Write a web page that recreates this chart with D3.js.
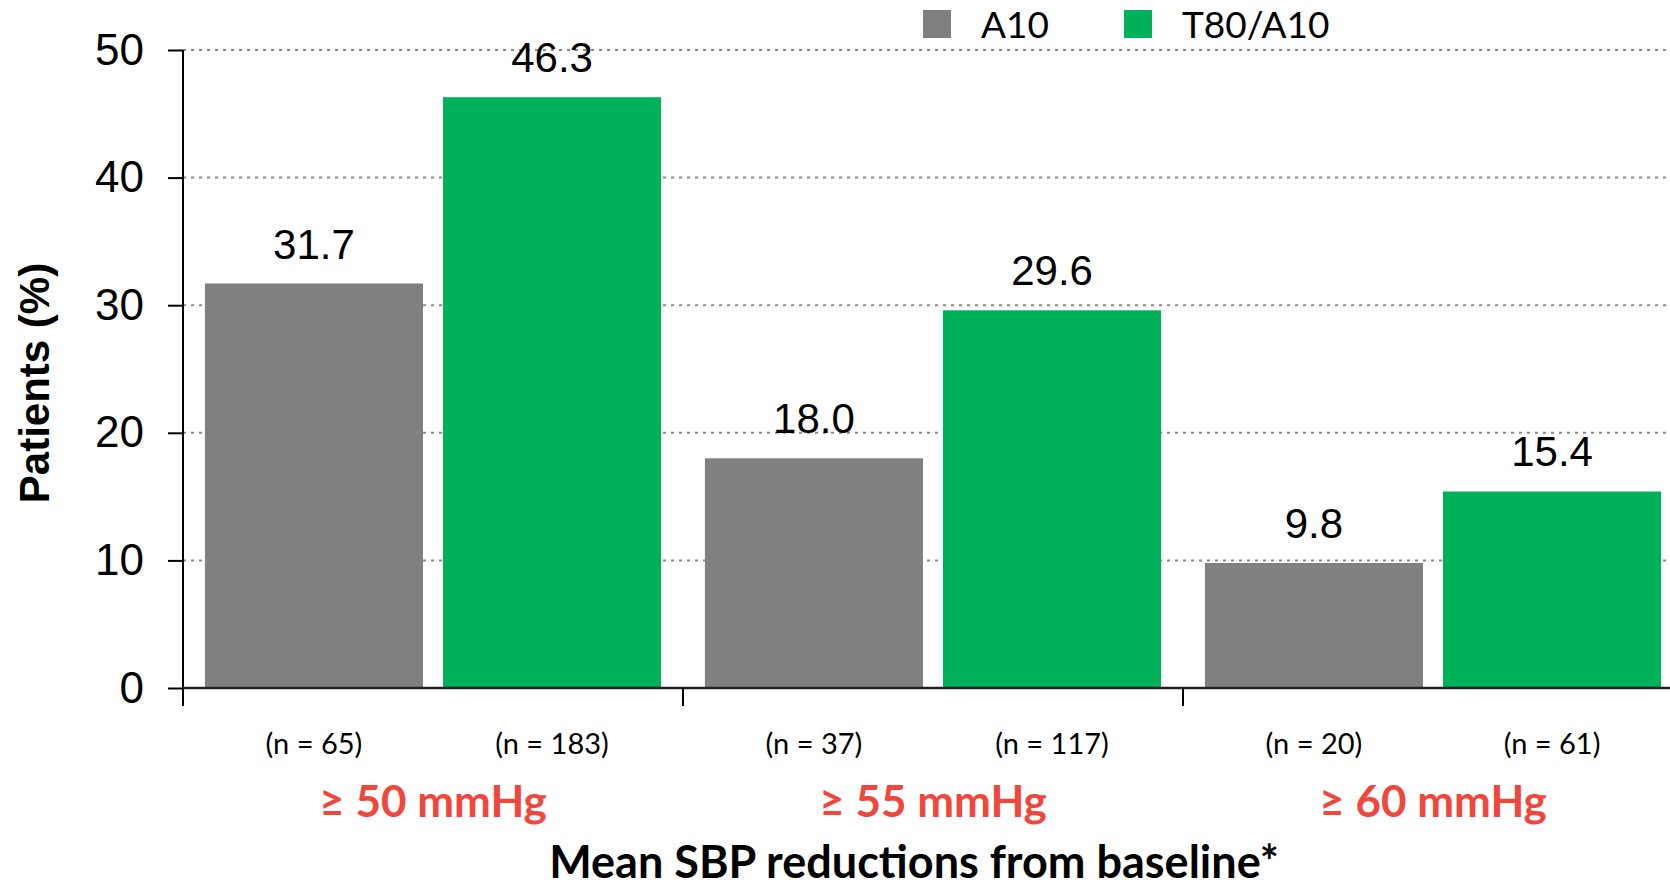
<!DOCTYPE html>
<html>
<head>
<meta charset="utf-8">
<script src="https://cdn.jsdelivr.net/npm/d3@7"></script>
<style>
  html, body { margin: 0; padding: 0; background: #fff; }
  svg { display: block; }
</style>
</head>
<body>
<svg id="chart" width="1670" height="889"></svg>
<script>
// Share of patients reaching each mean SBP reduction threshold
const categories = ["≥ 50 mmHg", "≥ 55 mmHg", "≥ 60 mmHg"];
const series = ["A10", "T80/A10"];
const valuesA10 = [31.7, 18.0, 9.8];
const valuesT80A10 = [46.3, 29.6, 15.4];
const nA10 = [65, 37, 20];
const nT80A10 = [183, 117, 61];
const yTicks = [0, 10, 20, 30, 40, 50];

const colors = { "A10": "#808080", "T80/A10": "#00B159" };

const rows = categories.map((c, i) => ({
  category: c,
  bars: [
    { series: "A10", value: valuesA10[i], n: nA10[i] },
    { series: "T80/A10", value: valuesT80A10[i], n: nT80A10[i] }
  ]
}));

const svg = d3.select("#chart");
const plotLeft = 183, plotTop = 50, plotBottom = 688;
const groupWidth = 500;

const x0 = d3.scaleBand()
  .domain(categories)
  .range([plotLeft, plotLeft + groupWidth * categories.length])
  .paddingInner(0).paddingOuter(0);

const x1 = d3.scaleBand()
  .domain(series)
  .range([0, groupWidth])
  .paddingInner(0.084)
  .paddingOuter(0.092);

const y = d3.scaleLinear().domain([0, 50]).range([plotBottom, plotTop]);

// dotted gridlines
svg.append("g")
  .selectAll("line")
  .data(yTicks.filter(d => d > 0))
  .join("line")
  .attr("x1", plotLeft).attr("x2", 1670)
  .attr("y1", d => y(d)).attr("y2", d => y(d))
  .attr("stroke", "#8a8a8a")
  .attr("stroke-width", 2)
  .attr("stroke-dasharray", "3,5");

// bars
const groups = svg.append("g")
  .selectAll("g")
  .data(rows)
  .join("g")
  .attr("transform", d => `translate(${x0(d.category)},0)`);

groups.selectAll("rect")
  .data(d => d.bars)
  .join("rect")
  .attr("x", d => x1(d.series))
  .attr("width", x1.bandwidth())
  .attr("y", d => y(d.value))
  .attr("height", d => y(0) - y(d.value))
  .attr("fill", d => colors[d.series]);

// value labels above bars
groups.selectAll("text.val")
  .data(d => d.bars)
  .join("text")
  .attr("class", "val")
  .attr("x", d => x1(d.series) + x1.bandwidth() / 2)
  .attr("y", d => y(d.value) - 25)
  .attr("text-anchor", "middle")
  .attr("font-family", "Liberation Sans, Arial, sans-serif")
  .attr("font-size", 42)
  .attr("fill", "#000")
  .text(d => d3.format(".1f")(d.value));

// sample sizes under bars
groups.selectAll("text.n")
  .data(d => d.bars)
  .join("text")
  .attr("class", "n")
  .attr("x", d => x1(d.series) + x1.bandwidth() / 2)
  .attr("y", 754)
  .attr("text-anchor", "middle")
  .attr("font-family", "Lato, sans-serif")
  .attr("font-size", 29)
  .attr("fill", "#000")
  .text(d => `(n = ${d.n})`);

// threshold labels
svg.append("g")
  .selectAll("text")
  .data(categories)
  .join("text")
  .attr("x", d => x0(d) + groupWidth / 2)
  .attr("y", 817)
  .attr("text-anchor", "middle")
  .attr("font-family", "Lato, sans-serif")
  .attr("font-weight", "bold")
  .attr("font-size", 44)
  .attr("fill", "#F0473D")
  .text(d => d);

// y axis
const yAxis = svg.append("g")
  .attr("transform", `translate(${plotLeft},0)`)
  .call(d3.axisLeft(y).tickValues(yTicks).tickSize(15).tickPadding(24).tickFormat(d3.format("d")));
yAxis.select(".domain").attr("stroke", "#000").attr("stroke-width", 2).attr("d", `M0,${plotTop}V${plotBottom + 18}`);
yAxis.selectAll(".tick line").attr("stroke", "#000").attr("stroke-width", 2);
yAxis.selectAll(".tick text")
  .attr("font-family", "Liberation Sans, Arial, sans-serif")
  .attr("font-size", 44)
  .attr("fill", "#000");

// x baseline with group separators
const xAxis = svg.append("g")
  .attr("transform", `translate(0,${plotBottom})`)
  .call(d3.axisBottom(x0).tickValues([]).tickSizeOuter(0));
xAxis.select(".domain").attr("stroke", "#222").attr("stroke-width", 2.5)
  .attr("d", `M${plotLeft},0H1670`);
xAxis.selectAll(".sep")
  .data(categories.slice(1))
  .join("line")
  .attr("class", "sep")
  .attr("x1", d => x0(d)).attr("x2", d => x0(d))
  .attr("y1", 0).attr("y2", 18)
  .attr("stroke", "#000").attr("stroke-width", 2);

// axis titles
svg.append("text")
  .attr("transform", "translate(49,383) rotate(-90)")
  .attr("text-anchor", "middle")
  .attr("font-family", "Liberation Sans, Arial, sans-serif")
  .attr("font-weight", "bold")
  .attr("font-size", 42)
  .attr("fill", "#000")
  .text("Patients (%)");

svg.append("text")
  .attr("x", 914)
  .attr("y", 878)
  .attr("text-anchor", "middle")
  .attr("font-family", "Lato, sans-serif")
  .attr("font-weight", "bold")
  .attr("font-size", 45)
  .attr("fill", "#000")
  .text("Mean SBP reductions from baseline*");

// legend
const legendX = [923, 1124];
const legend = svg.append("g")
  .selectAll("g")
  .data(series)
  .join("g")
  .attr("transform", (d, i) => `translate(${legendX[i]},10)`);
legend.append("rect")
  .attr("width", 28).attr("height", 28)
  .attr("fill", d => colors[d]);
legend.append("text")
  .attr("x", 58).attr("y", 28)
  .attr("font-family", "Lato, sans-serif")
  .attr("font-size", 37)
  .attr("fill", "#000")
  .text(d => d);
</script>
</body>
</html>
